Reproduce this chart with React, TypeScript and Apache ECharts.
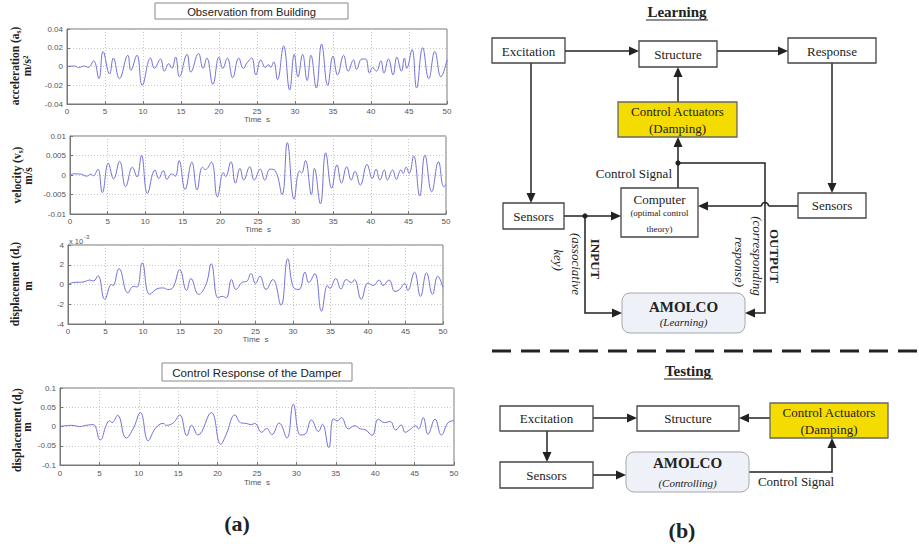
import React, { useEffect, useRef } from "react";
import * as echarts from "echarts";

// ---------- data ----------
const timeTicks = [0, 5, 10, 15, 20, 25, 30, 35, 40, 45, 50];

const acceleration: [number, number][] = [
  [0, 0], [1, 0.0005], [1.5, -0.001], [2.3, 0.0005], [2.8, -0.001], [3.5, 0.006], [4.2, -0.013],
  [4.75, 0.016], [5.6, -0.008], [6.1, 0.009], [6.9, -0.013], [8.0, 0.012], [8.4, -0.004],
  [9.2, 0.012], [9.9, -0.02], [11.0, 0.009], [11.5, -0.002], [12.3, 0.008], [12.8, -0.005],
  [13.4, 0.003], [13.8, -0.002], [14.3, 0.01], [14.8, -0.011], [15.8, 0.013], [16.3, -0.006],
  [17.3, 0.014], [17.9, -0.002], [18.4, 0.009], [19.2, -0.019], [20.0, 0.01], [20.5, -0.002],
  [21.1, 0.009], [21.8, -0.012], [22.6, 0.009], [23.2, -0.002], [23.7, 0.004], [24.3, 0.009],
  [24.85, -0.009], [25.5, 0.007], [26.1, -0.001], [26.5, 0.002], [26.8, -0.001], [27.2, 0.005],
  [27.7, -0.014], [28.5, 0.022], [29.3, -0.025], [29.9, 0.013], [30.4, -0.011], [31.0, 0.013],
  [31.6, -0.015], [32.1, 0.012], [32.8, -0.023], [33.5, 0.024], [34.3, -0.02], [35.0, 0.011],
  [35.6, -0.009], [36.4, 0.012], [37.0, -0.005], [37.7, 0.007], [38.1, -0.003], [38.8, 0.008],
  [39.3, 0.008], [39.8, -0.007], [40.2, -0.001], [40.7, -0.005], [41.3, 0.006], [41.7, -0.007],
  [42.3, 0.008], [42.9, -0.009], [43.4, 0.01], [44.0, -0.005], [44.4, 0.009], [44.7, -0.002],
  [45.4, 0.018], [46.0, -0.023], [46.8, 0.02], [47.6, -0.013], [48.4, 0.016], [49.2, -0.011],
  [50, 0.007],
];

const velocity: [number, number][] = [
  [0, 0], [0.5, 0.0003], [1.5, 0.0002], [2.2, -0.0003], [2.8, 0.0002], [3.1, -0.0002],
  [3.7, 0.0015], [4.3, -0.0045], [5.1, 0.003], [5.8, -0.001], [6.6, 0.0035], [7.4, -0.003],
  [8.3, 0.002], [8.9, -0.0005], [9.5, 0.005], [10.3, -0.0047], [11.3, 0.0013], [11.8, -0.0009],
  [12.4, 0.0011], [12.9, -0.0011], [13.5, 0.0003], [14.0, -0.0003], [14.5, 0.0037],
  [15.3, -0.0037], [16.2, 0.0033], [16.9, -0.0038], [17.6, 0.002], [18.0, 0.0014],
  [18.8, 0.0033], [19.6, -0.0056], [20.4, 0.0006], [20.7, -0.0004], [21.4, 0.0034],
  [22.0, -0.0021], [22.6, 0.0017], [23.1, -0.0013], [23.9, 0.0021], [24.5, -0.0013],
  [25.3, 0.0015], [25.9, -0.0013], [26.6, 0.0015], [27.3, 0.0011], [28.2, -0.005],
  [28.9, 0.0083], [29.8, -0.0062], [30.5, 0.001], [30.8, 0.0005], [31.3, 0.0037],
  [32.1, -0.005], [32.5, 0.0017], [33.3, -0.0074], [34.0, 0.0057], [34.8, -0.0034],
  [35.5, 0.0026], [36.1, -0.0021], [36.8, 0.0021], [37.4, -0.0013], [37.9, 0.0009],
  [38.6, -0.0026], [39.5, 0.0027], [40.2, -0.0009], [40.7, 0.0015], [41.2, -0.0013],
  [41.8, 0.0013], [42.2, -0.0013], [42.9, 0.0013], [43.4, -0.0011], [44.0, 0.0013],
  [44.3, 0.0004], [44.7, 0.002], [45.1, 0.0004], [45.7, 0.0049], [46.5, -0.0054],
  [47.2, 0.0051], [48.1, -0.0043], [49.0, 0.0034], [49.7, -0.003], [50, -0.0025],
];

// building displacement, in units of 10^-3 m
const displacementBuilding: [number, number][] = [
  [0, 0], [0.7, 0.2], [2, 0.25], [2.9, 0.45], [3.4, 0.35], [4.0, 0.9], [4.9, -1.5], [5.8, 0],
  [6.0, -0.1], [6.8, 1.6], [8.0, -0.85], [8.7, -0.2], [9.2, -0.25], [9.9, 2.2], [10.9, -1.0],
  [12.0, -0.4], [12.7, -0.35], [13.3, -0.5], [14.0, -0.3], [14.9, 1.5], [15.8, -0.6],
  [16.4, 0.6], [17.4, -1.0], [18.4, 0.0], [19.1, 2.1], [20.0, -1.35], [20.6, -1.2],
  [21.1, -1.35], [21.8, 0.5], [22.4, -0.5], [23.3, 0.25], [23.8, 0.3], [24.4, 1.1], [25.0, 0.1],
  [25.6, 0.85], [26.4, -0.5], [27.3, 0.5], [28.4, -2.1], [29.3, 2.6], [30.1, -0.35],
  [30.8, -0.5], [31.6, 1.25], [32.1, 0.2], [32.9, 1.1], [33.8, -2.7], [34.6, -0.1],
  [34.9, -0.4], [35.7, 0.6], [36.4, -0.45], [37.1, 0.5], [37.8, 0.2], [38.2, 0.5],
  [39.1, -1.5], [40.0, 0.15], [40.7, -0.1], [41.5, 0.45], [42.0, -0.1], [42.8, 0.45],
  [43.6, -0.7], [44.2, -0.5], [44.9, 0.1], [45.3, -0.6], [46.2, 1.25], [47.0, -1.2],
  [47.8, 1.2], [48.6, -1.0], [49.3, 0.85], [50, -0.3],
];

const displacementDamper: [number, number][] = [
  [0, 0], [1.5, 0.003], [2.5, 0.0], [3.3, 0.003], [4.2, 0.005], [5.1, -0.035], [5.9, 0.005],
  [6.3, 0.015], [6.6, 0.01], [7.3, 0.029], [8.4, -0.03], [9.3, -0.005], [10.2, 0.036],
  [11.2, -0.037], [12.1, -0.005], [13.1, 0.008], [13.5, 0.003], [14.4, 0.01], [15.2, 0.03],
  [16.1, -0.024], [16.7, 0.003], [17.5, -0.022], [19.2, 0.036], [20.4, -0.046], [21.1, -0.02],
  [22.2, 0.03], [22.9, 0.01], [23.6, 0.008], [24.3, 0.005], [24.7, 0.008], [25.6, -0.015],
  [26.2, -0.005], [26.9, -0.021], [27.8, 0.009], [28.8, -0.03], [29.6, 0.058], [30.5, -0.022],
  [31.1, -0.02], [31.9, 0.017], [32.8, -0.013], [33.3, 0.006], [34.1, -0.055], [34.7, 0.02],
  [35.2, 0.015], [35.7, 0.023], [36.6, -0.006], [37.4, 0.002], [38.1, -0.006], [38.7, -0.008],
  [39.6, -0.023], [40.4, 0.019], [41.2, 0.01], [41.9, 0.013], [42.6, -0.009], [43.3, 0.004],
  [43.8, -0.015], [44.6, -0.005], [45.1, 0.002], [45.5, -0.006], [46.1, 0.023], [46.7, -0.02],
  [47.6, 0.019], [48.4, -0.022], [49.3, 0.011], [50, 0.015],
];

const panelTitles = ["Observation from Building", "Control Response of the Damper"];
const yRanges: [number, number, number][] = [
  [-0.04, 0.04, 0.02],
  [-0.01, 0.01, 0.005],
  [-4, 4, 2],
  [-0.1, 0.1, 0.05],
];

// ---------- layout ----------
const GRIDS = [
  { left: 67, top: 29, width: 380, height: 75, nameGap: 11, margin: 3 },
  { left: 70, top: 136, width: 376, height: 78, nameGap: 11, margin: 3 },
  { left: 68, top: 245, width: 375, height: 79, nameGap: 11, margin: 3 },
  { left: 60, top: 388, width: 394, height: 77, nameGap: 13, margin: 4 },
];

const SERIF = "Liberation Serif";
const SANS = "Liberation Sans";
const INK = "#222";
const YELLOW = "#f4dc00";

const box = (x: number, y: number, w: number, h: number, fill = "#fff", stroke = "#444", r = 0, lw = 1.3) => ({
  type: "rect",
  shape: { x, y, width: w, height: h, r },
  style: { fill, stroke, lineWidth: lw },
  z: 10,
});

const txt = (x: number, y: number, text: string, size: number, extra: any = {}, rotation = 0) => ({
  type: "text",
  x,
  y,
  rotation,
  z: 20,
  style: {
    text,
    fontSize: size,
    fontFamily: SERIF,
    fill: INK,
    align: "center",
    verticalAlign: "middle",
    ...extra,
  },
});

const pline = (points: number[][], extra: any = {}) => ({
  type: "polyline",
  shape: { points },
  style: { stroke: INK, lineWidth: 1.5, fill: null, ...extra },
  z: 5,
});

const head = (x: number, y: number, dir: "r" | "l" | "u" | "d") => {
  const L = 10, W = 4.5;
  let pts: number[][];
  if (dir === "r") pts = [[x, y], [x - L, y - W], [x - L, y + W]];
  else if (dir === "l") pts = [[x, y], [x + L, y - W], [x + L, y + W]];
  else if (dir === "u") pts = [[x, y], [x - W, y + L], [x + W, y + L]];
  else pts = [[x, y], [x - W, y - L], [x + W, y - L]];
  return { type: "polygon", shape: { points: pts }, style: { fill: INK }, z: 15 };
};

const dot = (x: number, y: number) => ({ type: "circle", shape: { cx: x, cy: y, r: 2.6 }, style: { fill: INK }, z: 15 });

const ylab = (x: number, y: number, main: string, sub: string) => ({
  type: "text",
  x,
  y,
  rotation: Math.PI / 2,
  z: 20,
  style: {
    text: sub ? `{b|${main}}{s|${sub}}{b|)}` : `{b|${main}}`,
    rich: {
      b: { fontSize: 11.5, fontWeight: "bold", fontFamily: SERIF, fill: INK, lineHeight: 14, verticalAlign: "middle" },
      s: { fontSize: 7.5, fontWeight: "bold", fontFamily: SERIF, fill: INK, lineHeight: 14, verticalAlign: "bottom", padding: [6, 0, 0, 0] },
    },
    align: "center",
    verticalAlign: "middle",
  },
});

function buildGraphics() {
  const g: any[] = [];
  // left panel titles
  g.push(box(155, 3, 193, 16, "#fff", "#888", 0, 1));
  g.push(txt(251.5, 11.5, panelTitles[0], 11.2, { fontFamily: SANS }));
  g.push(box(162, 363, 190, 18, "#fff", "#888", 0, 1));
  g.push(txt(257, 372.5, panelTitles[1], 11.6, { fontFamily: SANS }));
  // y labels
  g.push(ylab(15, 66, "acceleration (a", "s"));
  g.push(txt(27, 66, "m/s²", 11.5, { fontWeight: "bold" }, Math.PI / 2));
  g.push(ylab(17, 175, "velocity (v", "s"));
  g.push(txt(28, 176, "m/s", 11.5, { fontWeight: "bold" }, Math.PI / 2));
  g.push(ylab(15, 284, "displacement (d", "s"));
  g.push(txt(28, 286, "m", 11.5, { fontWeight: "bold" }, Math.PI / 2));
  g.push(ylab(17, 430, "displacement (d", "t"));
  g.push(txt(27, 427, "m", 11.5, { fontWeight: "bold" }, Math.PI / 2));
  // x10^-3
  g.push(txt(69, 241, "x 10", 7.5, { fontFamily: SANS, fill: "#555", align: "left" }));
  g.push(txt(84, 237, "-3", 6, { fontFamily: SANS, fill: "#555", align: "left" }));
  // (a) (b)
  g.push(txt(237, 523, "(a)", 22, { fontWeight: "bold" }));
  g.push(txt(682, 530, "(b)", 22, { fontWeight: "bold" }));

  // ----- Learning -----
  g.push(txt(677, 12, "Learning", 15, { fontWeight: "bold" }));
  g.push(pline([[646, 20], [708, 20]], { lineWidth: 1.2 }));
  g.push(box(492, 38, 73, 25));
  g.push(txt(528.5, 51, "Excitation", 13));
  g.push(box(639, 41, 78, 26));
  g.push(txt(678, 54, "Structure", 13));
  g.push(box(788, 38, 88, 25));
  g.push(txt(832, 51, "Response", 13));
  g.push(pline([[565, 51], [630, 51]]), head(639, 51, "r"));
  g.push(pline([[717, 51], [779, 51]]), head(788, 51, "r"));
  g.push(box(618, 102, 119, 35, YELLOW, "#666"));
  g.push(txt(677.5, 111, "Control Actuators", 13));
  g.push(txt(677.5, 128, "(Damping)", 13));
  g.push(pline([[678, 102], [678, 76]]), head(678, 67, "u"));
  g.push(pline([[678, 188], [678, 146]]), head(678, 137, "u"));
  g.push(dot(678, 163));
  g.push(pline([[678, 163], [765, 163], [765, 313], [754, 313]]), head(745, 313, "l"));
  g.push(txt(672, 173, "Control Signal", 13, { align: "right" }));
  g.push(box(621, 188, 77, 49));
  g.push(txt(659.5, 199, "Computer", 13));
  g.push(txt(659.5, 213, "(optimal control", 9));
  g.push(txt(659.5, 229, "theory)", 9));
  g.push(box(798, 193, 68, 25));
  g.push(txt(832, 205.5, "Sensors", 13));
  g.push(pline([[832, 63], [832, 184]]), head(832, 193, "d"));
  g.push(pline([[798, 206], [768.5, 206]]));
  g.push({
    type: "arc",
    shape: { cx: 765, cy: 206, r: 3.5, startAngle: Math.PI, endAngle: 2 * Math.PI, clockwise: true },
    style: { stroke: INK, lineWidth: 1.5, fill: null },
    z: 6,
  });
  g.push(pline([[761.5, 206], [707, 206]]), head(698, 206, "l"));
  g.push(box(503, 203, 61, 26));
  g.push(txt(533.5, 216, "Sensors", 13));
  g.push(pline([[531, 63], [531, 194]]), head(531, 203, "d"));
  g.push(pline([[564, 216], [612, 216]]), head(621, 216, "r"));
  g.push(dot(585, 216));
  g.push(pline([[585, 216], [585, 313], [613, 313]]), head(622, 313, "r"));
  g.push(box(622, 293, 123, 40, "#eef1f8", "#a4a8b0", 8, 1));
  g.push(txt(683.5, 307, "AMOLCO", 15, { fontWeight: "bold" }));
  g.push(txt(683.5, 322, "(Learning)", 11, { fontStyle: "italic" }));
  g.push(txt(595, 259, "INPUT", 13, { fontWeight: "bold" }, -Math.PI / 2));
  g.push(txt(576, 264, "(associative", 13, { fontStyle: "italic" }, -Math.PI / 2));
  g.push(txt(558, 260, "key)", 13, { fontStyle: "italic" }, -Math.PI / 2));
  g.push(txt(774, 256, "OUTPUT", 13, { fontWeight: "bold" }, -Math.PI / 2));
  g.push(txt(757, 256, "(corresponding", 13, { fontStyle: "italic" }, -Math.PI / 2));
  g.push(txt(739, 262, "response)", 13, { fontStyle: "italic" }, -Math.PI / 2));

  // separator
  g.push({
    type: "line",
    shape: { x1: 492, y1: 351, x2: 919, y2: 351 },
    style: { stroke: INK, lineWidth: 3, lineDash: [19, 10] },
  });

  // ----- Testing -----
  g.push(txt(688, 371, "Testing", 15, { fontWeight: "bold" }));
  g.push(pline([[664, 379], [713, 379]], { lineWidth: 1.2 }));
  g.push(box(500, 406, 93, 25));
  g.push(txt(546.5, 418.5, "Excitation", 13));
  g.push(box(637, 406, 102, 25));
  g.push(txt(688, 418.5, "Structure", 13));
  g.push(box(770, 403, 118, 35, YELLOW, "#666"));
  g.push(txt(829, 412, "Control Actuators", 13));
  g.push(txt(829, 429, "(Damping)", 13));
  g.push(pline([[593, 418], [628, 418]]), head(637, 418, "r"));
  g.push(pline([[770, 418], [748, 418]]), head(739, 418, "l"));
  g.push(pline([[547, 431], [547, 453]]), head(547, 462, "d"));
  g.push(box(500, 462, 93, 26));
  g.push(txt(546.5, 475, "Sensors", 13));
  g.push(pline([[593, 475], [617, 475]]), head(626, 475, "r"));
  g.push(box(626, 452, 123, 40, "#eef1f8", "#a4a8b0", 8, 1));
  g.push(txt(687.5, 463, "AMOLCO", 15, { fontWeight: "bold" }));
  g.push(txt(687.5, 483, "(Controlling)", 11, { fontStyle: "italic" }));
  g.push(pline([[749, 472], [832, 472], [832, 447]]), head(832, 438, "u"));
  g.push(txt(796, 481, "Control Signal", 13));
  return g;
}

export default function App() {
  const ref = useRef<HTMLDivElement>(null);
  useEffect(() => {
    if (!ref.current) return;
    const chart = echarts.init(ref.current, null, { renderer: "svg" });
    const seriesData = [acceleration, velocity, displacementBuilding, displacementDamper];
    const option: any = {
      animation: false,
      backgroundColor: "#fff",
      grid: GRIDS.map((g) => ({
        left: g.left, top: g.top, width: g.width, height: g.height,
        show: true, borderColor: "#777", borderWidth: 1, backgroundColor: "#fff",
      })),
      xAxis: GRIDS.map((g, i) => ({
        gridIndex: i,
        type: "value",
        min: timeTicks[0],
        max: timeTicks[timeTicks.length - 1],
        interval: timeTicks[1] - timeTicks[0],
        axisLine: { show: true, onZero: false, lineStyle: { color: "#777" } },
        axisTick: { show: true, inside: true, length: 3, lineStyle: { color: "#777" } },
        axisLabel: { fontSize: 8, color: "#555", margin: g.margin, fontFamily: SANS },
        splitLine: { show: true, lineStyle: { color: "#c8c8c8", type: [1, 2] } },
        name: "Time  s",
        nameLocation: "middle",
        nameGap: g.nameGap,
        nameTextStyle: { fontSize: 8, color: "#555", fontFamily: SANS },
      })),
      yAxis: GRIDS.map((g, i) => ({
        gridIndex: i,
        type: "value",
        min: yRanges[i][0],
        max: yRanges[i][1],
        interval: yRanges[i][2],
        axisLine: { show: true, onZero: false, lineStyle: { color: "#777" } },
        axisTick: { show: true, inside: true, length: 3, lineStyle: { color: "#777" } },
        axisLabel: { fontSize: 8, color: "#555", margin: 4, fontFamily: SANS },
        splitLine: { show: true, lineStyle: { color: "#c8c8c8", type: [1, 2] } },
      })),
      series: seriesData.map((d, i) => ({
        type: "line",
        xAxisIndex: i,
        yAxisIndex: i,
        data: d,
        smooth: 0.45,
        showSymbol: false,
        lineStyle: { color: "#7272d6", width: 1 },
      })),
      graphic: buildGraphics(),
    };
    chart.setOption(option);
    return () => chart.dispose();
  }, []);
  return (
    <div
      ref={ref}
      style={{ position: "absolute", left: 0, top: 0, width: 919, height: 544, background: "#fff" }}
    />
  );
}
